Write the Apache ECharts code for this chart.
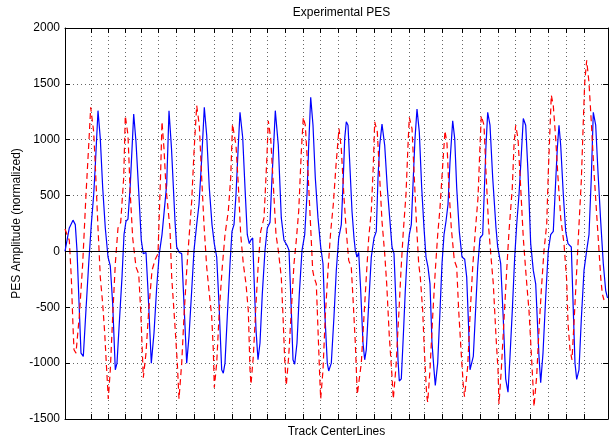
<!DOCTYPE html>
<html><head><meta charset="utf-8">
<script src="https://cdn.jsdelivr.net/npm/echarts@6/dist/echarts.min.js"></script>
<style>html,body{margin:0;padding:0;background:#fff}#c{width:610px;height:443px}</style>
</head><body><div id="c"></div>
<script>
// Track centerline positions (x units along the track)
const xTicks = [26,43,60.3,76.3,93.7,111.7,129.3,149.3,167,185,202.7,220.3,238,255.7,273.3,291,309,326.7,344.3,359.7,377.3,397.7,415.3,433,450.7,465.7,483.3,501,519];
const xRange = [0, 543];
const yRange = [-1500, 2000];
const yStep = 500;

// Solid blue PES trace [position, amplitude]
const blueTrace = [
[0,0],[4.3,210],[8,280],[10.3,240],[12,10],[14.3,-520],[16,-910],[18.3,-940],[21,-520],[23.7,-110],[26.3,240],[28.7,510],[30.3,770],[33,1260],[35.3,1010],[37.7,570],[40.3,210],[43,-50],[45.3,-130],[47.7,-470],[50.3,-1060],[52,-1000],[54.3,-640],[57,-230],[59,150],[61,270],[63,290],[65.3,600],[68.7,1230],[71,980],[73.7,540],[76.3,100],[78.3,-20],[81,-10],[83,-350],[86.3,-1000],[89,-730],[91.7,-320],[94.3,-20],[97,150],[99,160],[101.7,600],[104,1260],[106.5,920],[110,270],[111.7,40],[114.3,-10],[116.7,-20],[119,-470],[121.7,-1000],[124,-760],[126.7,-350],[129,10],[131.7,240],[134,420],[136.7,830],[139.3,1290],[141.7,1040],[144.3,570],[147,240],[149.3,70],[151.7,-50],[154,-470],[156.7,-1060],[158.3,-1090],[160,-1000],[162.3,-580],[165,-110],[167,180],[169,240],[171,510],[173.3,950],[175,1245],[177.7,1020],[180,570],[182.3,150],[184.3,70],[185.7,100],[187.7,120],[189,-230],[191,-700],[193,-970],[195,-820],[197.3,-380],[200,10],[202.3,210],[205,260],[207,660],[209,1010],[210.3,1260],[213.3,950],[216.3,300],[219,100],[222.3,50],[224,10],[226.3,-530],[228,-970],[229.7,-1010],[232,-820],[234.3,-380],[237,10],[239.7,150],[242,510],[243.7,950],[245.7,1380],[248,1130],[250.3,660],[253,300],[255.7,40],[258,-110],[259.7,-530],[262.3,-1000],[263.7,-1070],[266.3,-1000],[269,-580],[271.3,-170],[273.7,120],[276.3,240],[278.3,660],[279.7,1010],[281.3,1160],[283,1130],[284.7,800],[287,360],[289,120],[290.3,10],[292,-50],[293.7,-10],[295.7,-350],[298,-820],[299.7,-970],[301.3,-880],[303.7,-470],[306.3,-50],[309,120],[311.3,180],[313,660],[314.7,950],[317,1140],[319.7,950],[322.3,570],[324.7,300],[327,40],[329,-20],[331,-470],[333,-970],[334.3,-1160],[336.3,-1140],[338.3,-760],[340.3,-350],[342.3,-20],[344.3,150],[346.3,240],[348.3,660],[350,1010],[352,1275],[354.3,1070],[356.7,570],[359,210],[361,-50],[363,-140],[365,-290],[367,-820],[369,-1060],[370.3,-1200],[372.7,-1000],[375,-530],[377,-110],[379,150],[381,270],[383,420],[385,800],[387.7,1170],[389.7,1010],[391.7,570],[394.3,180],[397,-50],[399.7,-70],[401.7,-230],[403.7,-700],[405,-1060],[406.3,-1070],[408.3,-940],[410.3,-580],[412.7,-140],[415,120],[417.7,150],[419.3,540],[421,950],[422.7,1245],[425,1130],[427.7,660],[431,210],[432.7,40],[435.7,-110],[438.3,-610],[440.7,-1140],[443,-1260],[445,-940],[447.3,-530],[449.7,-50],[451.7,240],[454,510],[455.7,770],[458.3,1190],[460.7,1130],[463,710],[465.7,70],[468.3,-170],[470.7,-290],[472.3,-610],[474,-940],[475.7,-1175],[478,-910],[480.7,-410],[483.3,10],[485.7,150],[488.3,180],[490.7,630],[492.3,920],[494,1130],[495.7,950],[498.3,510],[500.7,180],[503,70],[506.3,40],[508.3,-530],[510,-1000],[511.7,-1145],[514,-1060],[516.3,-610],[519,-170],[521.7,10],[524,150],[526.3,660],[528.3,1245],[530.7,1130],[533,710],[535.7,270],[538.3,-110],[540.7,-350],[542.3,-410],[543,-415]
];

// Dashed red PES trace [position, amplitude]
const redTrace = [
[0,200],[4.3,100],[6.3,-230],[8,-670],[9,-880],[11,-910],[14.3,-580],[17.7,-110],[21,510],[23.7,950],[25.7,1290],[28.7,1070],[30.3,770],[33,210],[35.3,-230],[37.7,-470],[39.7,-730],[41.3,-1000],[43.3,-1320],[45.3,-1060],[47.7,-580],[50.3,-110],[53,210],[55.7,260],[58.7,660],[60.3,1215],[63,1040],[65.3,510],[67.7,120],[71,-140],[73.7,-200],[75.7,-530],[77,-820],[78.3,-1130],[81,-910],[83.7,-530],[87,-170],[90.3,-70],[93,-20],[95.5,660],[97,1160],[99,920],[101,570],[105,200],[106.7,-230],[110,-670],[112.3,-1000],[114,-1320],[116.7,-1000],[119,-580],[121.7,-170],[124,120],[126.7,450],[129,890],[131.7,1305],[134.3,1130],[136.7,660],[139,240],[141.7,-140],[144.3,-380],[146.7,-580],[148.3,-880],[149.3,-1220],[151.7,-1000],[154.3,-530],[157,-170],[160,150],[163.3,360],[165.7,660],[167.5,1140],[171,950],[173.3,600],[175.7,150],[178.3,-110],[181,-290],[183.3,-530],[185,-1060],[186,-1190],[188.3,-940],[191,-470],[193.3,-110],[195.7,180],[199,300],[201.7,800],[203.3,1170],[205.7,1010],[208.3,600],[211,150],[213.3,10],[216.3,-230],[218,-580],[219.7,-970],[221.3,-1200],[223.7,-940],[226.3,-530],[229,-110],[231.3,100],[233.7,360],[236.3,890],[238.3,1200],[240.3,1130],[243,710],[245.7,210],[247.7,-170],[249,-230],[251.3,-290],[253,-700],[254.7,-1115],[255.7,-1320],[258,-1060],[260.3,-580],[263,-170],[265.7,180],[268.3,420],[271,770],[274,1100],[276.3,920],[279,480],[281.3,180],[283.7,-80],[286.3,-140],[288.3,-470],[290.3,-820],[292.3,-1280],[296.3,-1000],[299,-580],[301.3,-230],[303.7,120],[306.3,360],[308.3,770],[309.7,1160],[312.3,1070],[314.7,660],[317,270],[319.7,-20],[321.7,-290],[324.3,-760],[327,-1115],[328.3,-1320],[331,-1030],[333.7,-580],[336,-170],[338.3,180],[341,510],[343,950],[344.3,1200],[347,1100],[349.3,660],[351.7,210],[353.7,-110],[355.3,-230],[357.7,-530],[359.3,-880],[361.7,-1290],[362.7,-1350],[365,-1060],[367.7,-580],[370.3,-170],[372.7,150],[375,390],[377.7,770],[380,1080],[382,965],[383.7,600],[386.3,210],[389.3,-80],[391.7,-140],[393.7,-530],[396,-880],[398.3,-1200],[399.5,-1300],[402.7,-1030],[405,-580],[407.7,-140],[410.3,180],[413,480],[415,950],[416.3,1215],[419,1130],[421,710],[423.7,210],[426.3,-80],[428.3,-290],[431,-760],[433,-1060],[434,-1365],[436.3,-1060],[439,-610],[441.7,-170],[444,180],[447.3,570],[449,950],[450.7,1130],[453,1010],[455.7,570],[458.3,120],[460.7,-170],[462.3,-350],[464,-530],[466.3,-910],[468,-1200],[469,-1390],[471.7,-1115],[474,-700],[476.3,-350],[479,10],[481.7,240],[483.3,710],[485,1100],[486.3,1400],[488.3,1305],[490.7,1010],[493,660],[495.7,300],[499,70],[501.7,-260],[503,-640],[505,-880],[507,-970],[509,-640],[511.7,-170],[514,240],[516.3,630],[518.3,1160],[519.7,1510],[521.7,1710],[524,1510],[526.3,1160],[529,710],[531.7,330],[534,10],[535.7,-230],[537.3,-380],[539,-435]
];

const FONT = '"Liberation Sans", Arial, Helvetica, sans-serif';
const txt = {fontFamily: FONT, fontSize: 12, color: '#000'};
const dotted = {color: '#666', width: 1, type: [1, 3]};
const axLine = {show: true, onZero: false, lineStyle: {color: '#000', width: 1}};

const chart = echarts.init(document.getElementById('c'), null, {renderer: 'canvas'});
chart.setOption({
  animation: false,
  backgroundColor: '#fff',
  title: {
    text: 'Experimental PES', left: 336.5, top: 2, textAlign: 'center',
    textStyle: Object.assign({fontWeight: 'normal'}, txt)
  },
  grid: {left: 65, top: 28, width: 543, height: 395.5, containLabel: false},
  xAxis: [
    {
      type: 'value', min: xRange[0], max: xRange[1], position: 'bottom',
      name: 'Track CenterLines', nameLocation: 'middle', nameGap: 7, nameMoveOverlap: false, nameTextStyle: txt,
      axisLine: axLine,
      axisTick: {show: true, inside: true, length: 5, customValues: xTicks, lineStyle: {color: '#000'}},
      axisLabel: {show: false, customValues: xTicks},
      splitLine: {show: true, lineStyle: dotted}
    },
    {
      type: 'value', min: xRange[0], max: xRange[1], position: 'top',
      axisLine: axLine,
      axisTick: {show: true, inside: true, length: 5, customValues: xTicks, lineStyle: {color: '#000'}},
      axisLabel: {show: false, customValues: xTicks},
      splitLine: {show: false}
    }
  ],
  yAxis: [
    {
      type: 'value', min: yRange[0], max: yRange[1], interval: yStep, position: 'left',
      name: 'PES Amplitude (normalized)', nameLocation: 'middle', nameGap: 42, nameMoveOverlap: false, nameTextStyle: txt,
      axisLine: axLine,
      axisTick: {show: true, inside: true, length: 5, lineStyle: {color: '#000'}},
      axisLabel: Object.assign({margin: 5, formatter: v => String(v)}, txt),
      splitLine: {show: true, lineStyle: dotted}
    },
    {
      type: 'value', min: yRange[0], max: yRange[1], interval: yStep, position: 'right',
      axisLine: axLine,
      axisTick: {show: true, inside: true, length: 5, lineStyle: {color: '#000'}},
      axisLabel: {show: false},
      splitLine: {show: false}
    }
  ],
  series: [
    {
      name: 'blue', type: 'line', data: blueTrace, symbol: 'none', smooth: false,
      lineStyle: {color: '#0000ff', width: 1.2}, z: 3,
      markLine: {
        silent: true, symbol: 'none', label: {show: false},
        lineStyle: {color: '#000', width: 1, type: 'solid'},
        data: [{yAxis: 0}]
      }
    },
    {
      name: 'red', type: 'line', data: redTrace, symbol: 'none', smooth: false,
      lineStyle: {color: '#ff0000', width: 1.2, type: [6, 4]}, z: 4
    }
  ]
});
</script>
</body></html>
